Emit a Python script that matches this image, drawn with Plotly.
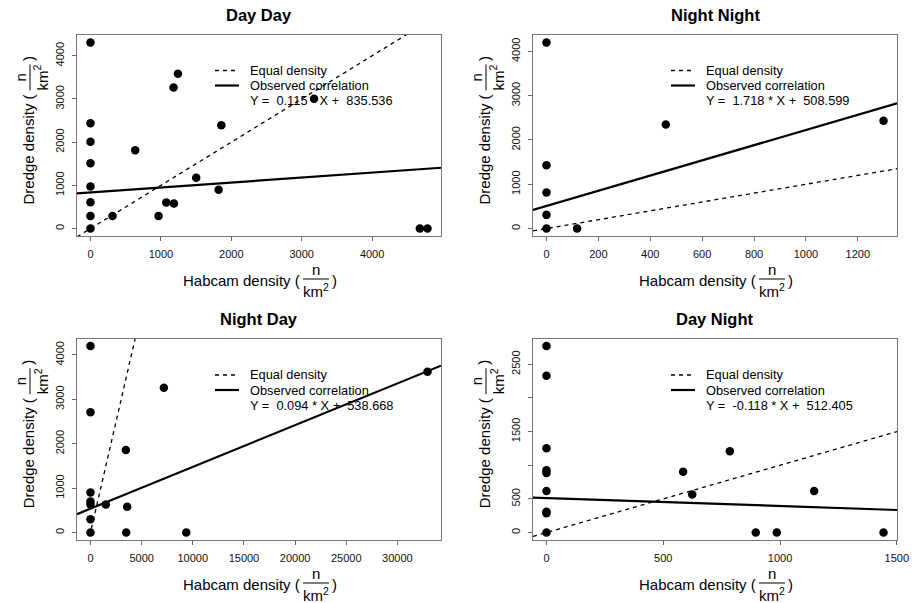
import plotly.graph_objects as go

W, H = 912, 603
FONT = "Liberation Sans, Arial, Helvetica, sans-serif"

# ---------------- data ----------------
titles = ["Day Day", "Night Night", "Night Day", "Day Night"]

dd_x = [0, 0, 0, 0, 0, 0, 0, 0, 313, 635, 967, 1076, 1185, 1180, 1242, 1502, 1820, 1858, 3175, 4678, 4787]
dd_y = [4309, 2440, 2008, 1514, 973, 610, 293, 0, 293, 1815, 293, 602, 579, 3266, 3583, 1174, 896, 2394, 3004, 0, 0]

nn_x = [0, 0, 0, 0, 0, 118, 460, 1299]
nn_y = [4203, 1431, 814, 309, 0, 0, 2350, 2433]

nd_x = [0, 0, 0, 0, 0, 0, 0, 1500, 3457, 3588, 3490, 7175, 9361, 32942]
nd_y = [4203, 2712, 904, 700, 630, 301, 0, 633, 1861, 580, 0, 3262, 0, 3623]

dn_x = [0, 0, 0, 0, 0, 0, 0, 0, 0, 585, 624, 785, 896, 986, 1146, 1443]
dn_y = [2773, 2331, 1252, 924, 885, 616, 308, 288, 0, 905, 567, 1208, 0, 0, 616, 0]

slopes = [0.115, 1.718, 0.094, -0.118]
intercepts = [835.536, 508.599, 538.668, 512.405]

x_tickvals = [
    [0, 1000, 2000, 3000, 4000],
    [0, 200, 400, 600, 800, 1000, 1200],
    [0, 5000, 10000, 15000, 20000, 25000, 30000],
    [0, 500, 1000, 1500],
]
y_tickvals = [
    [0, 1000, 2000, 3000, 4000],
    [0, 1000, 2000, 3000, 4000],
    [0, 1000, 2000, 3000, 4000],
    [0, 500, 1000, 1500, 2000, 2500],
]
y_ticktext = [
    ["0", "1000", "2000", "3000", "4000"],
    ["0", "1000", "2000", "3000", "4000"],
    ["0", "1000", "2000", "3000", "4000"],
    ["0", "500", "", "1500", "", "2500"],
]

legend_labels = ["Equal density", "Observed correlation"]
xlab_main = "Habcam density ("
ylab_main = "Dredge density ("

xs = [dd_x, nn_x, nd_x, dn_x]
ys = [dd_y, nn_y, nd_y, dn_y]

# ---------------- layout geometry (pixels) ----------------
boxes = [  # left, right, top, bottom
    (77, 441, 35, 236),
    (533, 897, 35, 236),
    (77, 441, 338.5, 540),
    (533, 897, 338.5, 540),
]
legend_row0 = [70.5, 70.5, 375, 375]


def px(x):
    return x / W


def py(y):
    return 1 - y / H


def rrange(v):
    lo, hi = min(v), max(v)
    d = (hi - lo) * 0.04
    return [lo - d, hi + d]


fig = go.Figure()
annotations = []
shapes = []
fs = 15

for i in range(4):
    xa = "x" if i == 0 else f"x{i+1}"
    ya = "y" if i == 0 else f"y{i+1}"
    xr = rrange(xs[i])
    yr = rrange(ys[i])
    fig.add_trace(go.Scatter(x=xs[i], y=ys[i], mode="markers", xaxis=xa, yaxis=ya,
                             marker=dict(color="black", size=8.5), showlegend=False,
                             hoverinfo="x+y"))
    fig.add_trace(go.Scatter(x=[xr[0], xr[1]], y=[xr[0], xr[1]], mode="lines", xaxis=xa, yaxis=ya,
                             line=dict(color="black", width=1.3, dash="4px,4px"), showlegend=False,
                             hoverinfo="skip"))
    fig.add_trace(go.Scatter(x=[xr[0], xr[1]],
                             y=[intercepts[i] + slopes[i] * xr[0], intercepts[i] + slopes[i] * xr[1]],
                             mode="lines", xaxis=xa, yaxis=ya,
                             line=dict(color="black", width=2.2), showlegend=False, hoverinfo="skip"))

    L, R, T, B = boxes[i]
    axis_common = dict(showline=True, mirror=True, linecolor="#777777", linewidth=1,
                       ticks="outside", ticklen=4, tickcolor="#666666", tickwidth=1,
                       showgrid=False, zeroline=False, tickmode="array", automargin=False,
                       tickfont=dict(family=FONT, size=11, color="#111111"))
    fig.layout[("xaxis" if i == 0 else f"xaxis{i+1}")] = dict(
        domain=[px(L), px(R)], range=xr, anchor=ya, tickvals=x_tickvals[i],
        ticktext=[str(v) for v in x_tickvals[i]], ticklabelstandoff=4, **axis_common)
    fig.layout[("yaxis" if i == 0 else f"yaxis{i+1}")] = dict(
        domain=[py(B), py(T)], range=yr, anchor=xa, tickvals=y_tickvals[i],
        ticktext=y_ticktext[i], tickangle=-90, ticklabelstandoff=4, **axis_common)

    cx = (L + R) / 2
    cy = (T + B) / 2
    annotations.append(dict(text="<b>%s</b>" % titles[i], x=px(cx), y=py(T - 20), xref="paper", yref="paper",
                            xanchor="center", yanchor="middle", showarrow=False,
                            font=dict(family=FONT, size=16.5, color="black")))
    r0 = legend_row0[i]
    for k in range(3):
        yy = r0 + 15 * k
        if k < 2:
            shapes.append(dict(type="line", xref="paper", yref="paper",
                               x0=px(L + 138), x1=px(L + 162), y0=py(yy), y1=py(yy),
                               line=dict(color="black", width=1.3 if k == 0 else 2.2,
                                         dash="4px,4px" if k == 0 else "solid")))
            txt = legend_labels[k]
        else:
            txt = "Y =\u00a0 %.3f * X +\u00a0 %.3f" % (slopes[i], intercepts[i])
        annotations.append(dict(text=txt, x=px(L + 171), y=py(yy), xref="paper", yref="paper",
                                xanchor="left", yanchor="middle", showarrow=False,
                                font=dict(family=FONT, size=12.8, color="black")))

    # x axis label with fraction
    bar_y = B + 43
    fcx = cx + 57
    annotations.append(dict(text=xlab_main, x=px(fcx - 14), y=py(bar_y + 1), xref="paper", yref="paper",
                            xanchor="right", yanchor="middle", showarrow=False,
                            font=dict(family=FONT, size=fs, color="black")))
    annotations.append(dict(text="n", x=px(fcx), y=py(bar_y - 10), xref="paper", yref="paper",
                            xanchor="center", yanchor="middle", showarrow=False,
                            font=dict(family=FONT, size=fs, color="black")))
    annotations.append(dict(text="km<sup>2</sup>", x=px(fcx), y=py(bar_y + 11), xref="paper", yref="paper",
                            xanchor="center", yanchor="middle", showarrow=False,
                            font=dict(family=FONT, size=fs, color="black")))
    annotations.append(dict(text=")", x=px(fcx + 14), y=py(bar_y + 1), xref="paper", yref="paper",
                            xanchor="left", yanchor="middle", showarrow=False,
                            font=dict(family=FONT, size=fs, color="black")))
    shapes.append(dict(type="line", xref="paper", yref="paper", x0=px(fcx - 13), x1=px(fcx + 13),
                       y0=py(bar_y), y1=py(bar_y), line=dict(color="black", width=1)))

    # y axis label with fraction (rotated)
    bar_x = L - 47
    fcy = cy - 58
    annotations.append(dict(text=ylab_main, x=px(bar_x - 2), y=py(fcy + 15), xref="paper", yref="paper",
                            xanchor="center", yanchor="top", showarrow=False, textangle=-90,
                            font=dict(family=FONT, size=fs, color="black")))
    annotations.append(dict(text="n", x=px(bar_x - 10), y=py(fcy), xref="paper", yref="paper",
                            xanchor="center", yanchor="middle", showarrow=False, textangle=-90,
                            font=dict(family=FONT, size=fs, color="black")))
    annotations.append(dict(text="km<sup>2</sup>", x=px(bar_x + 11), y=py(fcy), xref="paper", yref="paper",
                            xanchor="center", yanchor="middle", showarrow=False, textangle=-90,
                            font=dict(family=FONT, size=fs, color="black")))
    annotations.append(dict(text=")", x=px(bar_x - 2), y=py(fcy - 14), xref="paper", yref="paper",
                            xanchor="center", yanchor="bottom", showarrow=False, textangle=-90,
                            font=dict(family=FONT, size=fs, color="black")))
    shapes.append(dict(type="line", xref="paper", yref="paper", x0=px(bar_x), x1=px(bar_x),
                       y0=py(fcy - 13), y1=py(fcy + 13), line=dict(color="black", width=1)))

fig.update_layout(width=W, height=H, margin=dict(l=0, r=0, t=0, b=0, autoexpand=False),
                  paper_bgcolor="white", plot_bgcolor="white",
                  annotations=annotations, shapes=shapes, showlegend=False,
                  font=dict(family=FONT, color="black"))
fig.write_html("out.html")
